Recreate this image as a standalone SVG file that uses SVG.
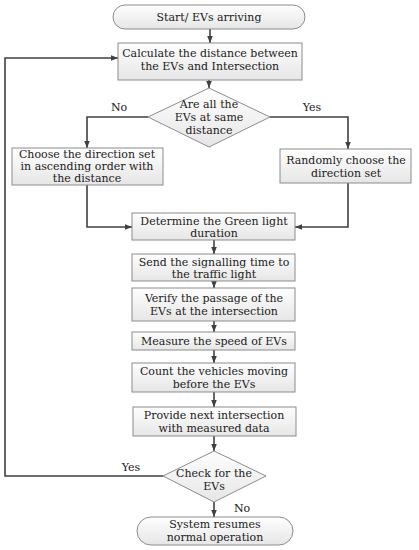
<svg xmlns="http://www.w3.org/2000/svg" width="419" height="550" viewBox="0 0 419 550">
<style>
.box{fill:url(#g);stroke:#8c8c8c;stroke-width:1}
.t{font-family:"DejaVu Serif",serif;font-size:11px;fill:#1a1a1a;text-anchor:middle}
.c{fill:none;stroke:#404040;stroke-width:1.6}
</style>
<defs>
<linearGradient id="g" x1="0" y1="0" x2="0" y2="1">
<stop offset="0" stop-color="#fefefe"/>
<stop offset="1" stop-color="#e6e6e6"/>
</linearGradient>
<marker id="m" viewBox="0 0 10 10" refX="10" refY="5" markerWidth="7" markerHeight="7" orient="auto" markerUnits="userSpaceOnUse">
<path d="M0,1 L10,5 L0,9 z" fill="#404040"/>
</marker>
</defs>
<rect width="419" height="550" fill="#fff"/>
<g id="connectors">
<path class="c" d="M210,29 V43" marker-end="url(#m)"/>
<path class="c" d="M209,80 V88" marker-end="url(#m)"/>
<path class="c" d="M148,117 H87 V148" marker-end="url(#m)"/>
<path class="c" d="M270,117 H348 V149" marker-end="url(#m)"/>
<path class="c" d="M87,185 V227 H132" marker-end="url(#m)"/>
<path class="c" d="M348,183 V227 H295" marker-end="url(#m)"/>
<path class="c" d="M214,240 V254" marker-end="url(#m)"/>
<path class="c" d="M214,281 V288" marker-end="url(#m)"/>
<path class="c" d="M214,321 V332" marker-end="url(#m)"/>
<path class="c" d="M214,350 V363" marker-end="url(#m)"/>
<path class="c" d="M214,392 V407" marker-end="url(#m)"/>
<path class="c" d="M214,436 V451" marker-end="url(#m)"/>
<path class="c" d="M214,502 V517" marker-end="url(#m)"/>
<path class="c" d="M163,476 H5 V58 H118" marker-end="url(#m)"/>
<text class="t" x="119" y="111">No</text>
<text class="t" x="312" y="111">Yes</text>
<text class="t" x="131" y="471">Yes</text>
<text class="t" x="242" y="512">No</text>
</g>
<g id="start">
<rect class="box" x="113" y="5" width="192" height="24" rx="12"/>
<text class="t" x="209" y="21">Start/ EVs arriving</text>
</g>
<g id="calc">
<rect class="box" x="118" y="43" width="184" height="37"/>
<text class="t" x="210" y="57">Calculate the distance between</text>
<text class="t" x="210" y="70">the EVs and Intersection</text>
</g>
<g id="decision1">
<polygon class="box" points="209,88 270,117 209,147 148,117"/>
<text class="t" x="209" y="108">Are all the</text>
<text class="t" x="209" y="121">EVs at same</text>
<text class="t" x="209" y="134">distance</text>
</g>
<g id="ascending">
<rect class="box" x="12" y="148" width="151" height="37"/>
<text class="t" x="87" y="158">Choose the direction set</text>
<text class="t" x="87" y="170">in ascending order with</text>
<text class="t" x="87" y="182">the distance</text>
</g>
<g id="random">
<rect class="box" x="280" y="149" width="131" height="34"/>
<text class="t" x="346" y="164">Randomly choose the</text>
<text class="t" x="346" y="177">direction set</text>
</g>
<g id="green">
<rect class="box" x="132" y="213" width="163" height="27"/>
<text class="t" x="214" y="225">Determine the Green light</text>
<text class="t" x="214" y="237">duration</text>
</g>
<g id="send">
<rect class="box" x="132" y="254" width="163" height="27"/>
<text class="t" x="214" y="266">Send the signalling time to</text>
<text class="t" x="214" y="278">the traffic light</text>
</g>
<g id="verify">
<rect class="box" x="132" y="288" width="163" height="33"/>
<text class="t" x="214" y="302">Verify the passage of the</text>
<text class="t" x="214" y="315">EVs at the intersection</text>
</g>
<g id="measure">
<rect class="box" x="132" y="332" width="163" height="18"/>
<text class="t" x="214" y="345">Measure the speed of EVs</text>
</g>
<g id="count">
<rect class="box" x="132" y="363" width="163" height="29"/>
<text class="t" x="214" y="375">Count the vehicles moving</text>
<text class="t" x="214" y="388">before the EVs</text>
</g>
<g id="provide">
<rect class="box" x="133" y="407" width="163" height="29"/>
<text class="t" x="214" y="419">Provide next intersection</text>
<text class="t" x="214" y="432">with measured data</text>
</g>
<g id="decision2">
<polygon class="box" points="214,451 266,476 214,502 163,476"/>
<text class="t" x="214" y="477">Check for the</text>
<text class="t" x="214" y="490">EVs</text>
</g>
<g id="end">
<rect class="box" x="137" y="517" width="156" height="28" rx="14"/>
<text class="t" x="215" y="528">System resumes</text>
<text class="t" x="215" y="541">normal operation</text>
</g>
</svg>
